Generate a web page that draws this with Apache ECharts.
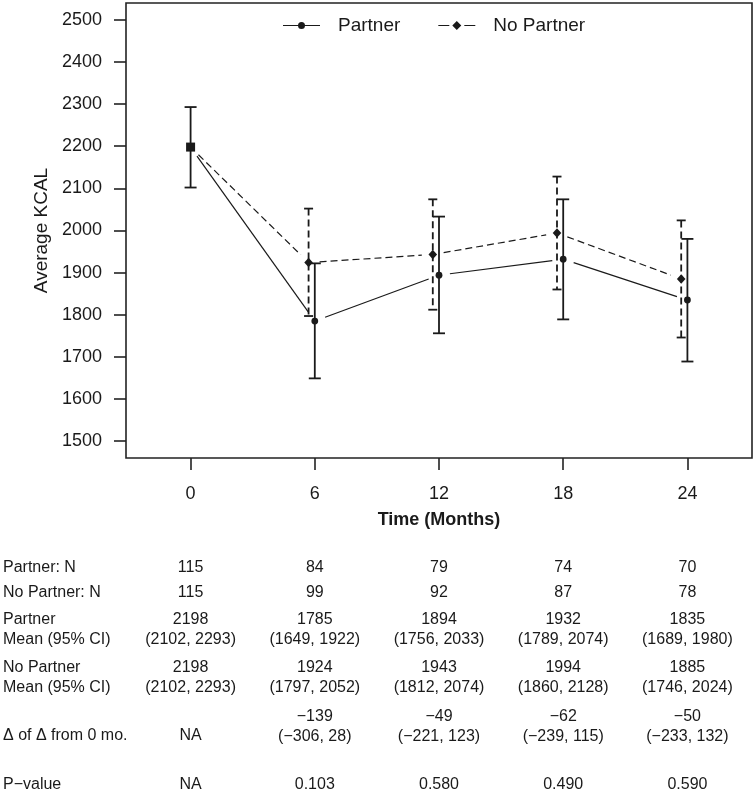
<!DOCTYPE html>
<html>
<head>
<meta charset="utf-8">
<script src="https://cdn.jsdelivr.net/npm/echarts@6/dist/echarts.min.js"></script>
<style>
  html, body { margin: 0; padding: 0; background: #fff; }
  #chart { width: 754px; height: 792px; }
</style>
</head>
<body>
<div id="chart"></div>
<script>
// follow-up time points (months)
const months = [0, 6, 12, 18, 24];
const yTicks = [1500, 1600, 1700, 1800, 1900, 2000, 2100, 2200, 2300, 2400, 2500];

// mean kcal and 95% CI
const partnerMean = [2198, 1785, 1894, 1932, 1835];
const partnerLo = [2102, 1649, 1756, 1789, 1689];
const partnerHi = [2293, 1922, 2033, 2074, 1980];
const noPartnerMean = [2198, 1924, 1943, 1994, 1885];
const noPartnerLo = [2102, 1797, 1812, 1860, 1746];
const noPartnerHi = [2293, 2052, 2074, 2128, 2024];

// table below the plot
const partnerN = [115, 84, 79, 74, 70];
const noPartnerN = [115, 99, 92, 87, 78];
const deltaEst = [null, -139, -49, -62, -50];
const deltaLo = [null, -306, -221, -239, -233];
const deltaHi = [null, 28, 123, 115, 132];
const pValues = [null, 0.103, 0.580, 0.490, 0.590];

const INK = '#1a1a1a';
const FONT = '"Liberation Sans", Arial, sans-serif';
const NP_SHIFT = -0.3; // no partner points drawn a bit left of the tick

const chart = echarts.init(document.getElementById('chart'));

function buildData(xs, mean, lo, hi, isNoPartner) {
  return xs.map(function (x, i) {
    const last = i === xs.length - 1;
    const nx = last ? x : xs[i + 1];
    const ny = last ? mean[i] : mean[i + 1];
    const show = isNoPartner && i === 0 ? 0 : 1;
    return [x, mean[i], lo[i], hi[i], nx, ny, show];
  });
}

const partnerX = months.slice();
const noPartnerX = months.map(function (m) { return m === 0 ? 0 : m + NP_SHIFT; });

function makeRender(dashed) {
  return function (params, api) {
    const i = params.dataIndex;
    const x = api.value(0);
    const p = api.coord([x, api.value(1)]);
    const dash = dashed ? [7, 4] : null;
    const children = [];
    // connecting segment with gaps around points (R type = "b")
    const q = api.coord([api.value(4), api.value(5)]);
    const dx = q[0] - p[0], dy = q[1] - p[1];
    const len = Math.sqrt(dx * dx + dy * dy);
    const g = 11;
    if (len > 2 * g) {
      children.push({
        type: 'line',
        shape: { x1: p[0] + dx * g / len, y1: p[1] + dy * g / len, x2: q[0] - dx * g / len, y2: q[1] - dy * g / len },
        style: { stroke: INK, lineWidth: 1.2, lineDash: dash }
      });
    }
    if (api.value(6)) {
      const lo = api.coord([x, api.value(2)]);
      const hi = api.coord([x, api.value(3)]);
      const bs = { stroke: INK, lineWidth: 1.8, lineDash: dash };
      const cs = { stroke: INK, lineWidth: 1.8 };
      const cw = dashed ? 4.5 : 6;
      children.push({ type: 'line', shape: { x1: p[0], y1: hi[1], x2: p[0], y2: lo[1] }, style: bs });
      children.push({ type: 'line', shape: { x1: p[0] - cw, y1: lo[1], x2: p[0] + cw, y2: lo[1] }, style: cs });
      children.push({ type: 'line', shape: { x1: p[0] - cw, y1: hi[1], x2: p[0] + cw, y2: hi[1] }, style: cs });
      if (i === 0) {
        children.push({ type: 'rect', shape: { x: p[0] - 4.5, y: p[1] - 4.5, width: 9, height: 9 }, style: { fill: INK } });
      } else if (dashed) {
        children.push({ type: 'polygon', shape: { points: [[p[0], p[1] - 4.8], [p[0] + 4.3, p[1]], [p[0], p[1] + 4.8], [p[0] - 4.3, p[1]]] }, style: { fill: INK } });
      } else {
        children.push({ type: 'circle', shape: { cx: p[0], cy: p[1], r: 3.4 }, style: { fill: INK } });
      }
    }
    return { type: 'group', children: children };
  };
}

const option = {
  animation: false,
  backgroundColor: '#fff',
  grid: { left: 126, right: 2, top: 3, bottom: 334, show: true, borderColor: '#222', borderWidth: 1.6 },
  legend: {
    left: 283,
    top: 16,
    padding: 0,
    itemWidth: 37,
    itemHeight: 9,
    itemGap: 38,
    textStyle: { fontSize: 19, fontFamily: FONT, color: INK, padding: [0, 0, 0, 13] },
    data: [
      { name: 'Partner', icon: 'path://M0,2.9L37,2.9L37,4.1L0,4.1Z M15,3.5A3.5,3.5,0,1,1,22,3.5A3.5,3.5,0,1,1,15,3.5Z' },
      { name: 'No Partner', icon: 'path://M0,3.9L11,3.9L11,5.1L0,5.1Z M26,3.9L37,3.9L37,5.1L26,5.1Z M18.5,0L23,4.5L18.5,9L14,4.5Z' }
    ]
  },
  xAxis: {
    type: 'value',
    min: -3.12,
    max: 27.12,
    name: 'Time (Months)',
    nameLocation: 'middle',
    nameGap: 53,
    nameTextStyle: { fontSize: 18, fontWeight: 'bold', fontFamily: FONT, color: INK },
    splitLine: { show: false },
    axisLine: { show: false, onZero: false },
    axisTick: { show: true, length: 12, customValues: months, lineStyle: { color: '#222', width: 1.6 } },
    axisLabel: { customValues: months, margin: 27, fontSize: 18, fontFamily: FONT, color: INK }
  },
  yAxis: {
    type: 'value',
    min: 1460,
    max: 2540,
    name: 'Average KCAL',
    nameLocation: 'middle',
    nameRotate: 90,
    nameGap: 63,
    nameTextStyle: { fontSize: 19, fontFamily: FONT, color: INK },
    splitLine: { show: false },
    axisLine: { show: false, onZero: false },
    axisTick: { show: true, length: 12, customValues: yTicks, lineStyle: { color: '#222', width: 1.6 } },
    axisLabel: {
      customValues: yTicks, margin: 24, fontSize: 18, fontFamily: FONT, color: INK,
      formatter: function (v) { return String(v); }
    }
  },
  series: [
    {
      name: 'No Partner',
      type: 'custom',
      itemStyle: { color: INK },
      encode: { x: 0, y: 1 },
      renderItem: makeRender(true),
      data: buildData(noPartnerX, noPartnerMean, noPartnerLo, noPartnerHi, true)
    },
    {
      name: 'Partner',
      type: 'custom',
      itemStyle: { color: INK },
      encode: { x: 0, y: 1 },
      renderItem: makeRender(false),
      data: buildData(partnerX, partnerMean, partnerLo, partnerHi, false)
    }
  ]
};
chart.setOption(option);

// table under the plot, columns aligned with the x ticks
function fmt(v) { return v < 0 ? '\u2212' + Math.abs(v) : String(v); }
function txt(x, y, s, align) {
  return {
    type: 'text', x: x, y: y,
    style: { text: s, fontSize: 16, fontFamily: FONT, fill: INK, align: align || 'center', verticalAlign: 'middle' }
  };
}
const colX = months.map(function (m) { return chart.convertToPixel({ xAxisIndex: 0 }, m); });
const items = [
  txt(3, 568, 'Partner: N', 'left'),
  txt(3, 593, 'No Partner: N', 'left'),
  txt(3, 620, 'Partner', 'left'),
  txt(3, 640, 'Mean (95% CI)', 'left'),
  txt(3, 668, 'No Partner', 'left'),
  txt(3, 688, 'Mean (95% CI)', 'left'),
  txt(3, 736, '\u0394 of \u0394 from 0 mo.', 'left'),
  txt(3, 785, 'P\u2212value', 'left')
];
colX.forEach(function (cx, i) {
  items.push(txt(cx, 568, String(partnerN[i])));
  items.push(txt(cx, 593, String(noPartnerN[i])));
  items.push(txt(cx, 620, String(partnerMean[i])));
  items.push(txt(cx, 640, '(' + partnerLo[i] + ', ' + partnerHi[i] + ')'));
  items.push(txt(cx, 668, String(noPartnerMean[i])));
  items.push(txt(cx, 688, '(' + noPartnerLo[i] + ', ' + noPartnerHi[i] + ')'));
  if (deltaEst[i] === null) {
    items.push(txt(cx, 736, 'NA'));
  } else {
    items.push(txt(cx, 717, fmt(deltaEst[i])));
    items.push(txt(cx, 737, '(' + fmt(deltaLo[i]) + ', ' + fmt(deltaHi[i]) + ')'));
  }
  items.push(txt(cx, 785, pValues[i] === null ? 'NA' : pValues[i].toFixed(3)));
});
chart.setOption({ graphic: items });
</script>
</body>
</html>
